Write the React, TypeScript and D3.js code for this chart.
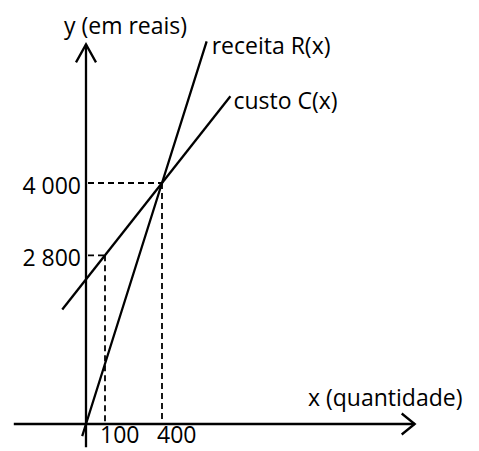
import * as d3 from "d3";

// quantities (x) and money values (y) marked on the axes
const xTicks = [100, 400];
const yTicks = [2800, 4000];
const yTickLabels = ["2 800", "4 000"];

// guide points: where the dashed lines meet the curves
const guideQ = [100, 400];
const guideV = [2800, 4000];

// ends of the drawn segments
const revenueQ = [-20, 0, 400, 635];
const revenueV = [-200, 0, 4000, 6350];
const costQ = [-125, 100, 400, 760];
const costV = [1900, 2800, 4000, 5440];

// how far the axes run
const xAxisExtent = [-380, 1730];
const yAxisExtent = [-385, 6300];

const W = 479;
const H = 451;
const FONT = "'Open Sans', sans-serif";

export default function App() {
  const x = d3.scaleLinear().domain([0, 400]).range([86, 162]);
  const y = d3.scaleLinear().domain([0, 4000]).range([424, 183]);

  const line = d3
    .line<[number, number]>()
    .x((d) => x(d[0]))
    .y((d) => y(d[1]));

  const revenue = revenueQ.map((q, i) => [q, revenueV[i]] as [number, number]);
  const cost = costQ.map((q, i) => [q, costV[i]] as [number, number]);

  const x0 = x(0);
  const y0 = y(0);
  const yTop = y(yAxisExtent[1]);
  const xRight = x(xAxisExtent[1]);

  const revEnd = revenue[revenue.length - 1];
  const costEnd = cost[cost.length - 1];

  return (
    <svg
      width={W}
      height={H}
      style={{ position: "absolute", left: 0, top: 0, background: "#fff" }}
      fontFamily={FONT}
    >
      <g stroke="#000" fill="none" strokeWidth={2.3}>
        {/* axes */}
        <line x1={x0} x2={x0} y1={y(yAxisExtent[0])} y2={yTop} />
        <line x1={x(xAxisExtent[0])} x2={xRight} y1={y0} y2={y0} />
        <polyline points={`${x0 - 10},${yTop + 18} ${x0},${yTop} ${x0 + 10},${yTop + 18}`} />
        <polyline points={`${xRight - 13},${y0 - 10.5} ${xRight},${y0} ${xRight - 13},${y0 + 10.5}`} />
      </g>

      <g stroke="#000" fill="none" strokeWidth={1.8} strokeDasharray="6 4">
        {guideQ.map((q, i) => (
          <g key={q}>
            <line x1={x0 + 2} x2={x(q)} y1={y(guideV[i])} y2={y(guideV[i])} />
            <line x1={x(q)} x2={x(q)} y1={y(guideV[i])} y2={y0} />
          </g>
        ))}
      </g>

      <g stroke="#000" fill="none" strokeWidth={2.3}>
        <path d={line(revenue) ?? ""} />
        <path d={line(cost) ?? ""} />
      </g>

      <g fontSize={23} fill="#000">
        {yTicks.map((v, i) => (
          <text key={v} x={81} y={y(v) + 11} textAnchor="end">
            {yTickLabels[i]}
          </text>
        ))}
        {xTicks.map((q) => (
          <text key={q} x={x(q) - 5} y={443}>
            {q}
          </text>
        ))}
        <text x={64} y={34}>y (em reais)</text>
        <text x={308} y={406}>x (quantidade)</text>
        <text x={x(revEnd[0]) + 5} y={y(revEnd[1]) + 13}>receita R(x)</text>
        <text x={x(costEnd[0]) + 3} y={y(costEnd[1]) + 13}>custo C(x)</text>
      </g>
    </svg>
  );
}
